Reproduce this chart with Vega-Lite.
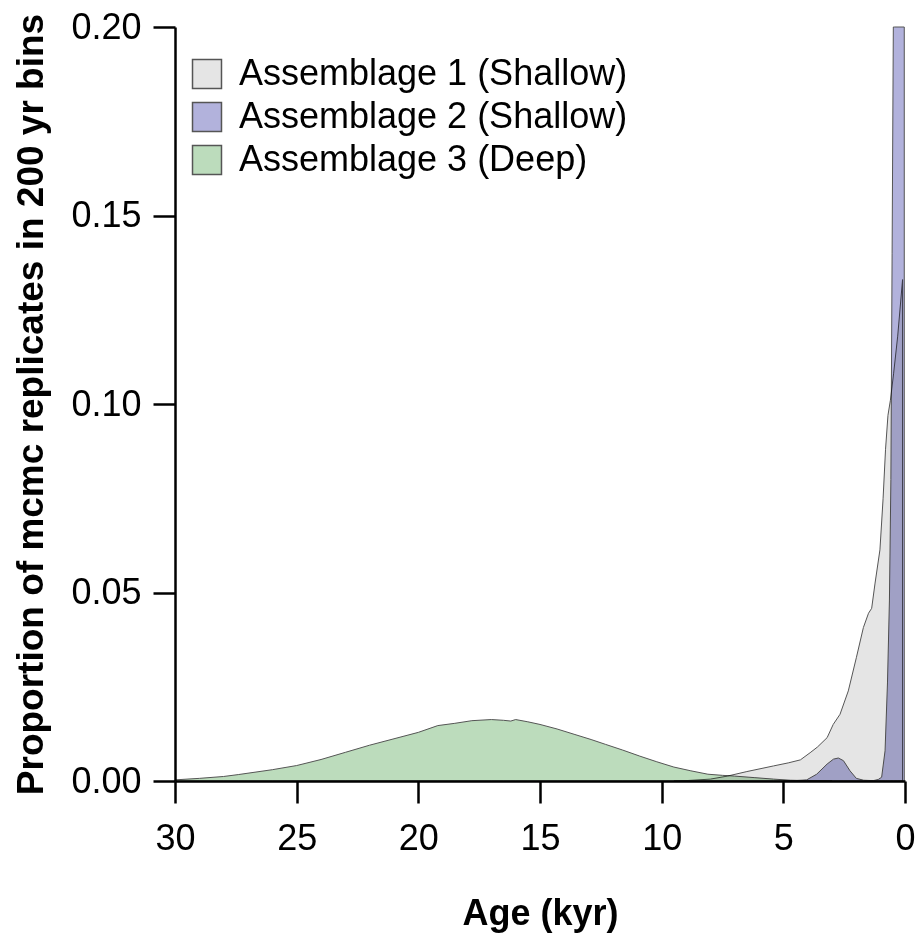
{
  "$schema": "https://vega.github.io/schema/vega-lite/v6.json",
  "width": 730,
  "height": 754,
  "autosize": {"type": "none"},
  "padding": {"left": 175, "top": 27, "right": 12, "bottom": 157},
  "background": "white",
  "config": {
    "view": {"stroke": null},
    "font": "Liberation Sans"
  },
  "data": {
    "values": [
      {"series": "Assemblage 1 (Shallow)", "age": 9.5, "p": 0},
      {"series": "Assemblage 1 (Shallow)", "age": 9.0, "p": 0.0001},
      {"series": "Assemblage 1 (Shallow)", "age": 8.0, "p": 0.0005},
      {"series": "Assemblage 1 (Shallow)", "age": 7.3, "p": 0.0013},
      {"series": "Assemblage 1 (Shallow)", "age": 6.5, "p": 0.0025},
      {"series": "Assemblage 1 (Shallow)", "age": 5.4, "p": 0.004},
      {"series": "Assemblage 1 (Shallow)", "age": 4.8, "p": 0.0048},
      {"series": "Assemblage 1 (Shallow)", "age": 4.3, "p": 0.0056},
      {"series": "Assemblage 1 (Shallow)", "age": 3.9, "p": 0.0075},
      {"series": "Assemblage 1 (Shallow)", "age": 3.6, "p": 0.009},
      {"series": "Assemblage 1 (Shallow)", "age": 3.2, "p": 0.0115},
      {"series": "Assemblage 1 (Shallow)", "age": 2.95, "p": 0.015},
      {"series": "Assemblage 1 (Shallow)", "age": 2.67, "p": 0.0177},
      {"series": "Assemblage 1 (Shallow)", "age": 2.33, "p": 0.0239},
      {"series": "Assemblage 1 (Shallow)", "age": 2.0, "p": 0.0327},
      {"series": "Assemblage 1 (Shallow)", "age": 1.71, "p": 0.0407},
      {"series": "Assemblage 1 (Shallow)", "age": 1.5, "p": 0.0445},
      {"series": "Assemblage 1 (Shallow)", "age": 1.37, "p": 0.0458},
      {"series": "Assemblage 1 (Shallow)", "age": 1.23, "p": 0.0525},
      {"series": "Assemblage 1 (Shallow)", "age": 1.03, "p": 0.0613},
      {"series": "Assemblage 1 (Shallow)", "age": 0.9, "p": 0.075},
      {"series": "Assemblage 1 (Shallow)", "age": 0.8, "p": 0.088},
      {"series": "Assemblage 1 (Shallow)", "age": 0.7, "p": 0.097},
      {"series": "Assemblage 1 (Shallow)", "age": 0.6, "p": 0.101},
      {"series": "Assemblage 1 (Shallow)", "age": 0.47, "p": 0.108},
      {"series": "Assemblage 1 (Shallow)", "age": 0.3, "p": 0.118},
      {"series": "Assemblage 1 (Shallow)", "age": 0.1, "p": 0.133},
      {"series": "Assemblage 2 (Shallow)", "age": 5.0, "p": 0},
      {"series": "Assemblage 2 (Shallow)", "age": 4.5, "p": 0.0001},
      {"series": "Assemblage 2 (Shallow)", "age": 4.04, "p": 0.0003},
      {"series": "Assemblage 2 (Shallow)", "age": 3.63, "p": 0.0018},
      {"series": "Assemblage 2 (Shallow)", "age": 3.2, "p": 0.0045},
      {"series": "Assemblage 2 (Shallow)", "age": 2.94, "p": 0.0058},
      {"series": "Assemblage 2 (Shallow)", "age": 2.74, "p": 0.0061},
      {"series": "Assemblage 2 (Shallow)", "age": 2.53, "p": 0.0054},
      {"series": "Assemblage 2 (Shallow)", "age": 2.26, "p": 0.0027},
      {"series": "Assemblage 2 (Shallow)", "age": 2.0, "p": 0.0007},
      {"series": "Assemblage 2 (Shallow)", "age": 1.7, "p": 0.0002},
      {"series": "Assemblage 2 (Shallow)", "age": 1.3, "p": 0.0001},
      {"series": "Assemblage 2 (Shallow)", "age": 1.1, "p": 0.0004},
      {"series": "Assemblage 2 (Shallow)", "age": 0.96, "p": 0.001},
      {"series": "Assemblage 2 (Shallow)", "age": 0.82, "p": 0.008},
      {"series": "Assemblage 2 (Shallow)", "age": 0.72, "p": 0.026},
      {"series": "Assemblage 2 (Shallow)", "age": 0.64, "p": 0.048},
      {"series": "Assemblage 2 (Shallow)", "age": 0.58, "p": 0.08},
      {"series": "Assemblage 2 (Shallow)", "age": 0.53, "p": 0.14},
      {"series": "Assemblage 2 (Shallow)", "age": 0.48, "p": 0.25},
      {"series": "Assemblage 2 (Shallow)", "age": 0.44, "p": 0.4},
      {"series": "Assemblage 2 (Shallow)", "age": 0.03, "p": 0.4},
      {"series": "Assemblage 3 (Deep)", "age": 30, "p": 0.0003},
      {"series": "Assemblage 3 (Deep)", "age": 29, "p": 0.0007},
      {"series": "Assemblage 3 (Deep)", "age": 28, "p": 0.0012},
      {"series": "Assemblage 3 (Deep)", "age": 27.4, "p": 0.0017},
      {"series": "Assemblage 3 (Deep)", "age": 26, "p": 0.003},
      {"series": "Assemblage 3 (Deep)", "age": 25, "p": 0.0041},
      {"series": "Assemblage 3 (Deep)", "age": 24, "p": 0.0057},
      {"series": "Assemblage 3 (Deep)", "age": 23, "p": 0.0076},
      {"series": "Assemblage 3 (Deep)", "age": 22, "p": 0.0095},
      {"series": "Assemblage 3 (Deep)", "age": 21, "p": 0.0112},
      {"series": "Assemblage 3 (Deep)", "age": 20, "p": 0.0129},
      {"series": "Assemblage 3 (Deep)", "age": 19.2, "p": 0.0147},
      {"series": "Assemblage 3 (Deep)", "age": 18.5, "p": 0.0153},
      {"series": "Assemblage 3 (Deep)", "age": 17.8, "p": 0.016},
      {"series": "Assemblage 3 (Deep)", "age": 17.0, "p": 0.0163},
      {"series": "Assemblage 3 (Deep)", "age": 16.5, "p": 0.0161},
      {"series": "Assemblage 3 (Deep)", "age": 16.2, "p": 0.0159},
      {"series": "Assemblage 3 (Deep)", "age": 16.0, "p": 0.0163},
      {"series": "Assemblage 3 (Deep)", "age": 15.5, "p": 0.0157},
      {"series": "Assemblage 3 (Deep)", "age": 15.0, "p": 0.015},
      {"series": "Assemblage 3 (Deep)", "age": 14.3, "p": 0.0138},
      {"series": "Assemblage 3 (Deep)", "age": 13.6, "p": 0.0124},
      {"series": "Assemblage 3 (Deep)", "age": 12.9, "p": 0.011},
      {"series": "Assemblage 3 (Deep)", "age": 12.3, "p": 0.0097},
      {"series": "Assemblage 3 (Deep)", "age": 11.6, "p": 0.0082},
      {"series": "Assemblage 3 (Deep)", "age": 10.9, "p": 0.0066},
      {"series": "Assemblage 3 (Deep)", "age": 10.2, "p": 0.0051},
      {"series": "Assemblage 3 (Deep)", "age": 9.5, "p": 0.0037},
      {"series": "Assemblage 3 (Deep)", "age": 8.8, "p": 0.0027},
      {"series": "Assemblage 3 (Deep)", "age": 8.1, "p": 0.0018},
      {"series": "Assemblage 3 (Deep)", "age": 7.5, "p": 0.0015},
      {"series": "Assemblage 3 (Deep)", "age": 7.0, "p": 0.0013},
      {"series": "Assemblage 3 (Deep)", "age": 6.2, "p": 0.0009},
      {"series": "Assemblage 3 (Deep)", "age": 5.4, "p": 0.0005},
      {"series": "Assemblage 3 (Deep)", "age": 4.7, "p": 0.0002},
      {"series": "Assemblage 3 (Deep)", "age": 4.0, "p": 0.0001},
      {"series": "Assemblage 3 (Deep)", "age": 3.0, "p": 0}
    ]
  },
  "mark": {
    "type": "area",
    "stroke": "#555555",
    "strokeWidth": 1,
    "strokeJoin": "round",
    "blend": "multiply",
    "opacity": 1,
    "fillOpacity": 1
  },
  "encoding": {
    "x": {
      "field": "age",
      "type": "quantitative",
      "sort": null,
      "scale": {"domain": [0, 30], "reverse": true, "nice": false, "zero": false},
      "axis": {
        "title": "Age (kyr)",
        "values": [0, 5, 10, 15, 20, 25, 30],
        "grid": false,
        "domainColor": "black",
        "domainWidth": 2.5,
        "tickColor": "black",
        "tickWidth": 2.5,
        "tickSize": 22,
        "labelFontSize": 36,
        "labelColor": "black",
        "labelPadding": 18,
        "labelFlush": false,
        "titleFontSize": 36,
        "titleFontWeight": "bold",
        "titleColor": "black",
        "titlePadding": 40
      }
    },
    "y": {
      "field": "p",
      "type": "quantitative",
      "stack": null,
      "scale": {"domain": [0, 0.2], "nice": false, "clamp": true},
      "axis": {
        "title": "Proportion of mcmc replicates in 200 yr bins",
        "values": [0, 0.05, 0.1, 0.15, 0.2],
        "format": ".2f",
        "grid": false,
        "domainColor": "black",
        "domainWidth": 2.5,
        "tickColor": "black",
        "tickWidth": 2.5,
        "tickSize": 22,
        "labelFontSize": 36,
        "labelColor": "black",
        "labelPadding": 12,
        "labelFlush": false,
        "titleFontSize": 37,
        "titleFontWeight": "bold",
        "titleColor": "black",
        "titlePadding": 20
      }
    },
    "color": {
      "field": "series",
      "type": "nominal",
      "scale": {
        "domain": ["Assemblage 1 (Shallow)", "Assemblage 2 (Shallow)", "Assemblage 3 (Deep)"],
        "range": ["#e5e5e5", "#b2b2dc", "#bcdcbc"]
      },
      "legend": {
        "title": null,
        "orient": "none",
        "legendX": 14,
        "legendY": 29,
        "symbolType": "square",
        "symbolSize": 840,
        "symbolStrokeColor": "#555555",
        "symbolStrokeWidth": 1.5,
        "symbolOpacity": 1,
        "labelFontSize": 36,
        "labelColor": "black",
        "labelOffset": 14,
        "rowPadding": 7,
        "labelLimit": 600
      }
    }
  }
}
